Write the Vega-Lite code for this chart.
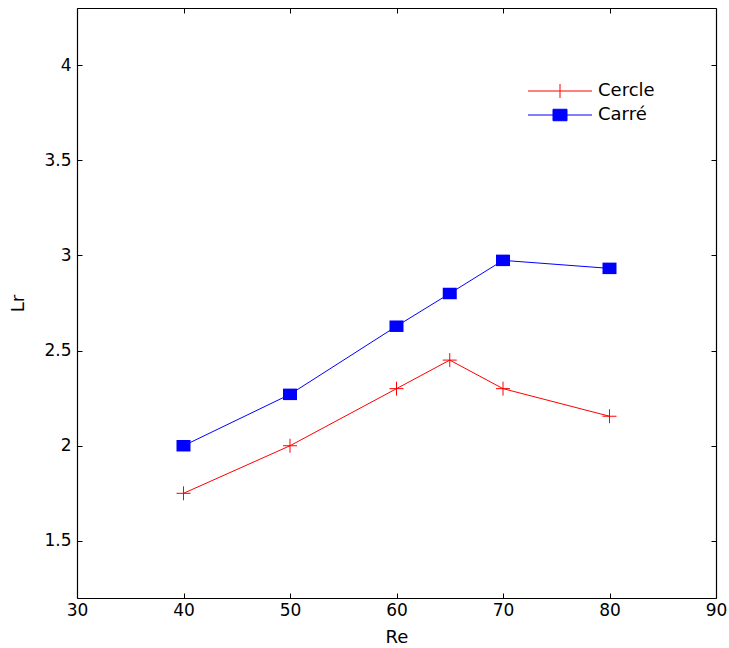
{
  "$schema": "https://vega.github.io/schema/vega-lite/v6.json",
  "width": 639,
  "height": 590,
  "autosize": {"type": "none"},
  "padding": {"left": 77, "top": 8, "right": 13, "bottom": 50},
  "background": "white",
  "config": {
    "view": {"stroke": null},
    "axis": {
      "grid": false,
      "domainColor": "black",
      "domainWidth": 1.2,
      "tickColor": "black",
      "tickWidth": 1,
      "tickSize": -5,
      "labelFont": "DejaVu Sans",
      "labelFontSize": 17,
      "labelColor": "black",
      "labelFlush": false,
      "labelOverlap": false,
      "labelBound": false,
      "titleFont": "DejaVu Sans",
      "titleFontSize": 18,
      "titleFontWeight": "normal",
      "titleColor": "black"
    }
  },
  "data": {
    "values": [
      {"Re": 40, "Lr": 1.75, "series": "Cercle"},
      {"Re": 50, "Lr": 2.0, "series": "Cercle"},
      {"Re": 60, "Lr": 2.3, "series": "Cercle"},
      {"Re": 65, "Lr": 2.45, "series": "Cercle"},
      {"Re": 70, "Lr": 2.3, "series": "Cercle"},
      {"Re": 80, "Lr": 2.155, "series": "Cercle"},
      {"Re": 40, "Lr": 2.0, "series": "Carré"},
      {"Re": 50, "Lr": 2.27, "series": "Carré"},
      {"Re": 60, "Lr": 2.628, "series": "Carré"},
      {"Re": 65, "Lr": 2.8, "series": "Carré"},
      {"Re": 70, "Lr": 2.974, "series": "Carré"},
      {"Re": 80, "Lr": 2.932, "series": "Carré"}
    ]
  },
  "layer": [
    {
      "mark": {"type": "line", "strokeWidth": 1},
      "encoding": {
        "x": {
          "field": "Re", "type": "quantitative",
          "scale": {"domain": [30, 90], "nice": false, "zero": false},
          "axis": {"orient": "bottom", "values": [30, 40, 50, 60, 70, 80, 90], "title": "Re", "labelPadding": 9, "titlePadding": 10}
        },
        "y": {
          "field": "Lr", "type": "quantitative",
          "scale": {"domain": [1.2, 4.3], "nice": false, "zero": false},
          "axis": {"orient": "left", "values": [1.5, 2, 2.5, 3, 3.5, 4], "format": "~g", "title": "Lr", "labelPadding": 11, "titlePadding": 16}
        },
        "color": {
          "field": "series", "type": "nominal",
          "scale": {"domain": ["Cercle", "Carré"], "range": ["#ff0000", "#0000ff"]},
          "legend": {
            "title": null,
            "orient": "none",
            "legendX": 474,
            "legendY": 74,
            "padding": 0,
            "symbolSize": 196,
            "labelOffset": 29,
            "rowPadding": 6,
            "labelFont": "DejaVu Sans",
            "labelFontSize": 18,
            "labelColor": "black",
            "encode": {
              "symbols": {
                "update": {
                  "shape": {"signal": "datum.value === 'Cercle' ? 'M-4.57,0L4.57,0M0,-1L0,1' : 'M-4.57,0L4.57,0M-1,-0.82L1,-0.82L1,0.82L-1,0.82Z'"},
                  "fill": {"signal": "datum.value === 'Cercle' ? 'transparent' : '#0000ff'"},
                  "stroke": {"signal": "datum.value === 'Cercle' ? '#ff0000' : '#0000ff'"},
                  "strokeWidth": {"value": 1},
                  "opacity": {"value": 1}
                }
              }
            }
          }
        }
      }
    },
    {
      "transform": [{"filter": "datum.series === 'Cercle'"}],
      "mark": {"type": "point", "size": 196, "strokeWidth": 1, "opacity": 1, "filled": false, "stroke": "#ff0000", "shape": "M-1,0L1,0M0,-1L0,1"},
      "encoding": {
        "x": {
          "field": "Re", "type": "quantitative",
          "scale": {"domain": [30, 90], "nice": false, "zero": false},
          "axis": {"orient": "top", "values": [30, 40, 50, 60, 70, 80, 90], "labels": false, "title": null}
        },
        "y": {
          "field": "Lr", "type": "quantitative",
          "scale": {"domain": [1.2, 4.3], "nice": false, "zero": false},
          "axis": {"orient": "right", "values": [1.5, 2, 2.5, 3, 3.5, 4], "labels": false, "title": null}
        }
      }
    },
    {
      "transform": [{"filter": "datum.series === 'Carré'"}],
      "mark": {"type": "point", "size": 196, "strokeWidth": 1, "opacity": 1, "filled": true, "fill": "#0000ff", "shape": "M-1,-0.82L1,-0.82L1,0.82L-1,0.82Z"},
      "encoding": {
        "x": {"field": "Re", "type": "quantitative", "scale": {"domain": [30, 90], "nice": false, "zero": false}, "axis": null},
        "y": {"field": "Lr", "type": "quantitative", "scale": {"domain": [1.2, 4.3], "nice": false, "zero": false}, "axis": null}
      }
    }
  ],
  "resolve": {"axis": {"x": "independent", "y": "independent"}}
}
